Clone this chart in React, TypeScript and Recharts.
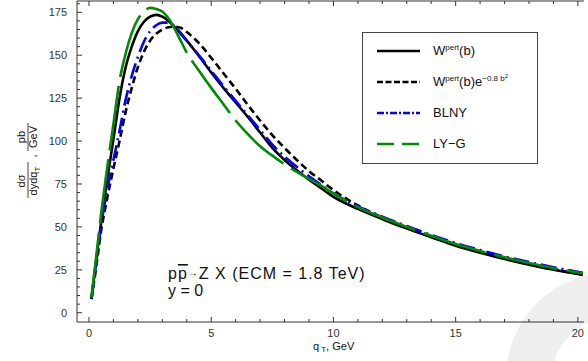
import React from 'react';
import { LineChart, Line, XAxis, YAxis, Legend } from 'recharts';

const qT = [0.1, 0.25, 0.5, 0.75, 1, 1.25, 1.5, 1.75, 2, 2.25, 2.5, 2.75, 3, 3.25, 3.5, 3.75, 4, 4.5, 5, 5.5, 6, 6.5, 7, 7.5, 8, 8.5, 9, 9.5, 10, 11, 12, 13, 14, 15, 16, 17, 18, 19, 20.2];
const wPert = [8, 26, 53, 78, 101, 125, 143, 155, 164, 169.5, 172.5, 173.5, 172.5, 170, 166.5, 162.5, 158.5, 149.5, 140, 131, 122.5, 114, 105, 96, 89, 83, 77.5, 72.5, 67.5, 60.5, 54.5, 49, 44, 39, 35, 31.3, 28, 25, 22];
const wPertGauss = [8, 22, 48, 67, 84, 100, 117, 131, 143, 152, 158.5, 162.5, 165, 166.3, 166.7, 166, 163.5, 157, 148.5, 139.5, 130.5, 121, 112, 103.5, 96, 89, 82.5, 77, 71.5, 62.5, 55.5, 49.5, 44.3, 39.5, 35.4, 31.6, 28.3, 25.3, 22.3];
const blny = [8, 24, 51, 72, 89, 106, 124, 138, 149, 158, 164, 167.5, 169, 169, 167, 163, 158.5, 150, 141, 132, 123.5, 115, 106.5, 98, 91, 85, 79.5, 74.5, 69.5, 62, 56, 50.5, 45.3, 40.6, 36.5, 32.8, 29.5, 26.5, 23.3];
const lyg = [9, 27, 58, 85, 110, 135, 151, 163, 171, 175.5, 177.6, 177, 175.5, 171.5, 165.5, 158.5, 151.5, 141, 131, 121.5, 112, 104, 97, 91.5, 86.5, 82, 78, 74, 69.5, 61.5, 55.5, 50, 44.8, 40, 36, 32.3, 29, 26, 23];

const xTicks = [0, 1, 2, 3, 4, 5, 6, 7, 8, 9, 10, 11, 12, 13, 14, 15, 16, 17, 18, 19, 20];
const xLabelTicks = [0, 5, 10, 15, 20];
const yTicks = [0, 5, 10, 15, 20, 25, 30, 35, 40, 45, 50, 55, 60, 65, 70, 75, 80, 85, 90, 95, 100, 105, 110, 115, 120, 125, 130, 135, 140, 145, 150, 155, 160, 165, 170, 175, 180];
const yLabelTicks = [0, 25, 50, 75, 100, 125, 150, 175];

const data = qT.map((q, i) => ({ q, w: wPert[i], wg: wPertGauss[i], blny: blny[i], lyg: lyg[i] }));

const FONT = '"Liberation Sans", Arial, Helvetica, sans-serif';
const AXIS = '#333';

const XTick = (props: any) => {
  const { x, y, payload } = props;
  const major = xLabelTicks.includes(payload.value);
  return (
    <g>
      <line x1={x} x2={x} y1={y} y2={y - (major ? 5 : 3)} stroke={AXIS} strokeWidth={1} />
      {major && (
        <text x={x} y={y + 15} textAnchor="middle" fontSize={11} fill={AXIS} fontFamily={FONT}>
          {payload.value}
        </text>
      )}
    </g>
  );
};

const TopTick = (props: any) => {
  const { x, y, payload } = props;
  const major = xLabelTicks.includes(payload.value);
  return <line x1={x} x2={x} y1={y} y2={y + (major ? 5 : 3)} stroke={AXIS} strokeWidth={1} />;
};

const YTick = (props: any) => {
  const { x, y, payload } = props;
  const major = yLabelTicks.includes(payload.value);
  return (
    <g>
      <line x1={x} x2={x + (major ? 5 : 3)} y1={y} y2={y} stroke={AXIS} strokeWidth={1} />
      {major && (
        <text x={x - 10} y={y + 4} textAnchor="end" fontSize={11} fill={AXIS} fontFamily={FONT}>
          {payload.value}
        </text>
      )}
    </g>
  );
};

const Sup = ({ children, size = 8, up = 5 }: any) => (
  <span style={{ fontSize: size, position: 'relative', top: -up, lineHeight: 1 }}>{children}</span>
);

const legendItems = [
  { key: 'w', color: '#000', dash: undefined as string | undefined, label: <span>W<Sup>pert</Sup>(b)</span> },
  { key: 'wg', color: '#000', dash: '6 2.5', label: <span>W<Sup>pert</Sup>(b)e<Sup>−0.8 b<Sup size={6} up={3}>2</Sup></Sup></span> },
  { key: 'blny', color: '#0000ff', dash: '7 2 2 2', label: <span>BLNY</span> },
  { key: 'lyg', color: '#008c00', dash: '17 8', label: <span>LY−G</span> },
];

const renderLegend = () => (
  <div
    style={{
      width: 176,
      height: 132,
      border: '1px solid #444',
      boxSizing: 'border-box',
      background: '#fff',
      paddingTop: 3,
      fontFamily: FONT,
      fontSize: 13,
      color: '#111',
    }}
  >
    {legendItems.map((it) => (
      <div key={it.key} style={{ height: 31, position: 'relative' }}>
        <svg width={60} height={10} style={{ position: 'absolute', left: 13, top: 10 }}>
          <line x1={1} x2={44} y1={5} y2={5} stroke={it.color} strokeWidth={2.5} strokeDasharray={it.dash} />
        </svg>
        <div style={{ position: 'absolute', left: 70, top: 7, height: 16, lineHeight: '16px', whiteSpace: 'nowrap' }}>{it.label}</div>
      </div>
    ))}
  </div>
);

export default function App() {
  return (
    <div style={{ position: 'absolute', left: 0, top: 0, width: 588, height: 361, overflow: 'hidden', background: '#fff', fontFamily: FONT }}>
      <svg width={588} height={361} style={{ position: 'absolute', left: 0, top: 0 }}>
        <circle cx={612} cy={378} r={83} fill="none" stroke="#efefef" strokeWidth={46} />
      </svg>
      <div style={{ position: 'absolute', left: 0, top: 0 }}>
        <LineChart width={588} height={361} data={data} margin={{ top: 0, right: 4, left: 0, bottom: 0 }}>
          <XAxis
            dataKey="q"
            type="number"
            domain={[-0.49, 20.25]}
            ticks={xTicks}
            interval={0}
            allowDataOverflow
            height={39}
            tickSize={0}
            tickMargin={0}
            tickLine={false}
            axisLine={{ stroke: AXIS }}
            tick={<XTick />}
          />
          <XAxis
            xAxisId="top"
            orientation="top"
            dataKey="q"
            type="number"
            domain={[-0.49, 20.25]}
            ticks={xTicks}
            interval={0}
            allowDataOverflow
            height={1}
            tickSize={0}
            tickMargin={0}
            tickLine={false}
            axisLine={{ stroke: AXIS }}
            tick={<TopTick />}
          />
          <YAxis
            type="number"
            domain={[-5.4, 181.6]}
            ticks={yTicks}
            interval={0}
            allowDataOverflow
            width={77}
            tickSize={0}
            tickMargin={0}
            tickLine={false}
            axisLine={{ stroke: AXIS }}
            tick={<YTick />}
          />
          <Legend
            content={renderLegend}
            layout="vertical"
            align="center"
            verticalAlign="middle"
            wrapperStyle={{ position: 'absolute', left: 362, top: 32, width: 176, height: 132 }}
          />
          <Line dataKey="w" name="W pert(b)" stroke="#000" strokeWidth={2.6} dot={false} type="monotone" isAnimationActive={false} />
          <Line dataKey="wg" name="W pert(b)e-0.8b2" stroke="#000" strokeWidth={2.6} strokeDasharray="7 4" dot={false} type="monotone" isAnimationActive={false} />
          <Line dataKey="blny" name="BLNY" stroke="#0000ff" strokeWidth={2.6} strokeDasharray="16 5 2 5" dot={false} type="monotone" isAnimationActive={false} />
          <Line dataKey="lyg" name="LY-G" stroke="#008c00" strokeWidth={2.6} strokeDasharray="65 9" dot={false} type="monotone" isAnimationActive={false} />
        </LineChart>
      </div>
      <svg width={588} height={361} style={{ position: 'absolute', left: 0, top: 0, pointerEvents: 'none' }}>
        <g transform="rotate(-90)" fontFamily={FONT} fontSize={11} fill="#111">
          <text x={-137} y={25} textAnchor="middle">pb</text>
          <line x1={-151} x2={-123} y1={28} y2={28} stroke="#111" strokeWidth={0.8} />
          <text x={-137} y={37} textAnchor="middle">GeV</text>
          <text x={-156} y={36} textAnchor="middle">,</text>
          <text x={-181} y={25} textAnchor="middle">dσ</text>
          <line x1={-198} x2={-162} y1={28} y2={28} stroke="#111" strokeWidth={0.8} />
          <text x={-181} y={37} textAnchor="middle">
            dydq<tspan fontSize={8} dy={3}>T</tspan>
          </text>
        </g>
        <text x={313} y={350} fontFamily={FONT} fontSize={11} fill="#111">
          q<tspan fontSize={8} dy={2}> T</tspan><tspan dy={-2}>, GeV</tspan>
        </text>
        <text x={168} y={279} fontFamily={FONT} fontSize={16} fill="#111" letterSpacing={1}>
          p<tspan style={{ textDecoration: 'overline' }}>p</tspan><tspan fontSize={10} dy={-3}>→</tspan><tspan dy={3}>Z X (ECM = 1.8 TeV)</tspan>
        </text>
        <text x={168} y={296} fontFamily={FONT} fontSize={16} fill="#111">y = 0</text>
      </svg>
    </div>
  );
}
